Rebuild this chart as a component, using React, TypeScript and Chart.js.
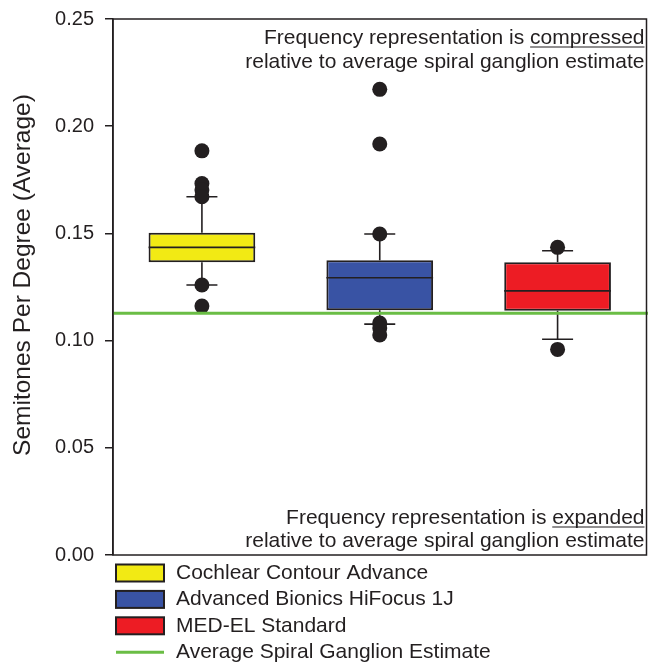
import React, { useEffect, useRef } from "react";
import { Chart, registerables } from "chart.js";

Chart.register(...registerables);

const categories = ["Cochlear Contour Advance", "Advanced Bionics HiFocus 1J", "MED-EL Standard"];
const boxColors = ["#f2ea14", "#3953a4", "#ed1c24"];
const q1Values = [0.1366, 0.1142, 0.1139];
const medianValues = [0.1435, 0.1293, 0.1232];
const q3Values = [0.1503, 0.1375, 0.1365];
const whiskerLow = [0.1259, 0.1077, 0.1006];
const whiskerHigh = [0.1671, 0.1497, 0.1419];
const outliersCochlear = [0.1885, 0.1733, 0.1702, 0.1671, 0.1259, 0.1161];
const outliersBionics = [0.2172, 0.1917, 0.1497, 0.1082, 0.1059, 0.1026];
const outliersMedel = [0.1435, 0.0959];
const spiralGanglionEstimate = 0.1128;
const yTicks = [0, 0.05, 0.1, 0.15, 0.2, 0.25];
const estimateLabel = "Average Spiral Ganglion Estimate";
const estimateColor = "#6abd45";
const yTitle = "Semitones Per Degree (Average)";
const topNote = ["Frequency representation is ", "compressed", "relative to average spiral ganglion estimate"];
const bottomNote = ["Frequency representation is ", "expanded", "relative to average spiral ganglion estimate"];

const FONT = '"Liberation Sans", Arial, Helvetica, sans-serif';
const INK = "#231f20";

const boxPlotPlugin = {
  id: "boxPlotExtras",
  afterLayout(chart: any) {
    const ca = chart.chartArea;
    ca.left = 113;
    ca.right = chart.width - 1.5;
    ca.top = 19;
    ca.bottom = 555;
    ca.width = ca.right - ca.left;
    ca.height = ca.bottom - ca.top;
    const x = chart.scales.x;
    x.left = ca.left;
    x.right = ca.right;
    x.width = ca.width;
    x.configure();
    const y = chart.scales.y;
    y.top = ca.top;
    y.bottom = ca.bottom;
    y.height = ca.height;
    y.configure();
  },
  beforeDatasetsDraw(chart: any) {
    const { ctx, scales } = chart;
    const x = scales.x;
    const y = scales.y;
    ctx.save();
    ctx.strokeStyle = INK;
    ctx.lineWidth = 1.6;
    categories.forEach((c, i) => {
      const cx = x.getPixelForValue(i);
      const half = 15.5;
      ctx.beginPath();
      ctx.moveTo(cx, y.getPixelForValue(q3Values[i]));
      ctx.lineTo(cx, y.getPixelForValue(whiskerHigh[i]));
      ctx.moveTo(cx, y.getPixelForValue(q1Values[i]));
      ctx.lineTo(cx, y.getPixelForValue(whiskerLow[i]));
      ctx.moveTo(cx - half, y.getPixelForValue(whiskerHigh[i]));
      ctx.lineTo(cx + half, y.getPixelForValue(whiskerHigh[i]));
      ctx.moveTo(cx - half, y.getPixelForValue(whiskerLow[i]));
      ctx.lineTo(cx + half, y.getPixelForValue(whiskerLow[i]));
      ctx.stroke();
    });
    ctx.restore();
  },
  afterDatasetsDraw(chart: any) {
    const { ctx, scales, chartArea } = chart;
    const y = scales.y;
    const meta = chart.getDatasetMeta(0);
    ctx.save();
    ctx.strokeStyle = INK;
    ctx.lineWidth = 1.6;
    meta.data.forEach((bar: any, i: number) => {
      const props = bar.getProps(["x", "width"], true);
      const my = y.getPixelForValue(medianValues[i]);
      ctx.beginPath();
      ctx.moveTo(props.x - props.width / 2, my);
      ctx.lineTo(props.x + props.width / 2, my);
      ctx.stroke();
    });
    // estimate line
    const gy = y.getPixelForValue(spiralGanglionEstimate);
    ctx.strokeStyle = estimateColor;
    ctx.lineWidth = 3;
    ctx.beginPath();
    ctx.moveTo(chartArea.left, gy);
    ctx.lineTo(chart.width, gy);
    ctx.stroke();
    // frame
    ctx.strokeStyle = INK;
    ctx.lineWidth = 1.5;
    ctx.strokeRect(chartArea.left, chartArea.top, chartArea.right - chartArea.left, chartArea.bottom - chartArea.top);
    ctx.restore();
  },
  afterDraw(chart: any) {
    const { ctx, chartArea } = chart;
    ctx.save();
    ctx.fillStyle = INK;
    ctx.strokeStyle = INK;
    // y title
    ctx.font = `24.5px ${FONT}`;
    ctx.textAlign = "center";
    ctx.textBaseline = "middle";
    ctx.save();
    ctx.translate(23, 275);
    ctx.rotate(-Math.PI / 2);
    ctx.fillText(yTitle, 0, 0);
    ctx.restore();

    // notes
    ctx.font = `21px ${FONT}`;
    ctx.textBaseline = "alphabetic";
    ctx.textAlign = "left";
    const rightX = chartArea.right - 2;
    const drawNote = (parts: string[], y1: number, y2: number) => {
      const full = parts[0] + parts[1];
      const wFull = ctx.measureText(full).width;
      const wWord = ctx.measureText(parts[1]).width;
      ctx.fillText(full, rightX - wFull, y1);
      ctx.lineWidth = 1.2;
      ctx.beginPath();
      ctx.moveTo(rightX - wWord, y1 + 3);
      ctx.lineTo(rightX, y1 + 3);
      ctx.stroke();
      const w2 = ctx.measureText(parts[2]).width;
      ctx.fillText(parts[2], rightX - w2, y2);
    };
    drawNote(topNote, 44, 68);
    drawNote(bottomNote, 524, 547);

    // legend
    const labels = [...categories, estimateLabel];
    ctx.textBaseline = "middle";
    labels.forEach((lab, i) => {
      const cy = 573 + i * 26.4;
      if (i < categories.length) {
        ctx.fillStyle = boxColors[i];
        ctx.fillRect(116, cy - 8.5, 48, 17);
        ctx.lineWidth = 2;
        ctx.strokeStyle = INK;
        ctx.strokeRect(116, cy - 8.5, 48, 17);
      } else {
        ctx.strokeStyle = estimateColor;
        ctx.lineWidth = 3;
        ctx.beginPath();
        ctx.moveTo(116, cy);
        ctx.lineTo(164, cy);
        ctx.stroke();
      }
      ctx.fillStyle = INK;
      ctx.fillText(lab, 176, cy);
    });
    ctx.restore();
  },
};

export default function App() {
  const ref = useRef<HTMLCanvasElement | null>(null);
  useEffect(() => {
    if (!ref.current) return;
    const outlierPoints = [
      ...outliersCochlear.map((v) => ({ x: categories[0], y: v })),
      ...outliersBionics.map((v) => ({ x: categories[1], y: v })),
      ...outliersMedel.map((v) => ({ x: categories[2], y: v })),
    ];
    const chart = new Chart(ref.current, {
      type: "bar",
      data: {
        labels: categories,
        datasets: [
          {
            type: "bar",
            label: "boxes",
            data: categories.map((_, i) => [q1Values[i], q3Values[i]]) as any,
            backgroundColor: boxColors,
            borderColor: INK,
            borderWidth: 2,
            borderSkipped: false,
            barPercentage: 0.6,
            categoryPercentage: 1,
            order: 2,
          } as any,
          {
            type: "line",
            label: "outliers",
            data: outlierPoints as any,
            showLine: false,
            pointRadius: 7.5,
            pointHoverRadius: 7.5,
            pointBackgroundColor: INK,
            pointBorderColor: INK,
            pointBorderWidth: 0,
            order: 1,
          } as any,
        ],
      },
      options: {
        responsive: false,
        animation: false,
        layout: { padding: { left: 0, right: 1.5, top: 19, bottom: 109 } },
        plugins: { legend: { display: false }, tooltip: { enabled: false } },
        scales: {
          x: { type: "category", display: false, offset: true },
          y: {
            min: 0,
            max: 0.25,
            afterBuildTicks: (s: any) => {
              s.ticks = yTicks.map((v) => ({ value: v }));
            },
            afterFit: (s: any) => {
              s.width = 113;
            },
            ticks: {
              callback: (v: any) => Number(v).toFixed(2),
              font: { family: FONT, size: 20 },
              color: INK,
              padding: 11,
            },
            grid: { drawOnChartArea: false, tickLength: 8, color: INK, lineWidth: 1.5 },
            border: { color: INK, width: 1.5 },
          },
        },
      } as any,
      plugins: [boxPlotPlugin],
    });
    return () => chart.destroy();
  }, []);
  return (
    <div style={{ position: "absolute", left: 0, top: 0, width: 648, height: 664, background: "#fff" }}>
      <canvas ref={ref} width={648} height={664} style={{ width: 648, height: 664, display: "block" }} />
    </div>
  );
}
